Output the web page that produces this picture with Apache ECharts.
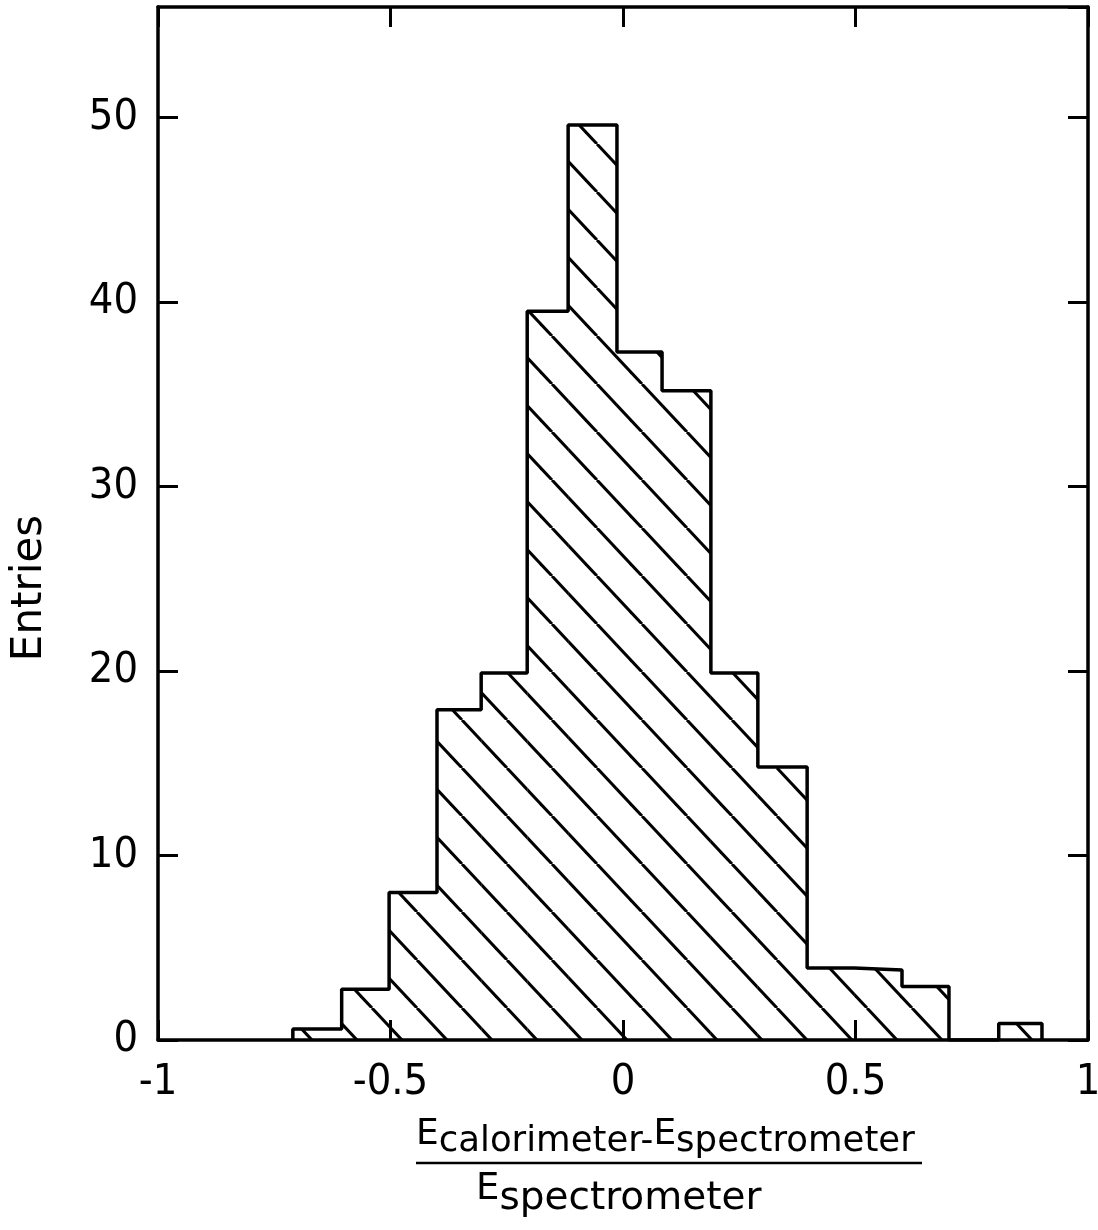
<!DOCTYPE html>
<html>
<head>
<meta charset="utf-8">
<script src="https://cdn.jsdelivr.net/npm/echarts@6/dist/echarts.min.js"></script>
<style>
html, body { margin: 0; padding: 0; background: #fff; }
#main { width: 1098px; height: 1230px; }
</style>
</head>
<body>
<div id="main"></div>
<script>
// bin edges (hand drawn, so not exactly 0.1 wide)
const binEdges = [-0.71, -0.605, -0.503, -0.40, -0.305, -0.206, -0.118, -0.013, 0.084, 0.189, 0.290, 0.396, 0.497, 0.600, 0.701, 0.808, 0.901];
const entries = [0.6, 2.75, 8.0, 17.9, 19.9, 39.5, 49.6, 37.3, 35.2, 19.9, 14.8, 3.9, 3.8, 2.9, 0, 0.9];
const xTicks = [-1, -0.5, 0, 0.5, 1];
const yTicks = [0, 10, 20, 30, 40, 50];
const yMax = 56;

const tickFont = "'Liberation Sans Narrow', 'DejaVu Sans Condensed', 'DejaVu Sans', sans-serif";
const textFont = "'DejaVu Sans', sans-serif";

// one bar per bin: [left, right, height]
const bars = entries.map((h, i) => [binEdges[i], binEdges[i + 1], h]);

// step outline of the histogram
const outline = [[binEdges[0], 0]];
entries.forEach((h, i) => {
  outline.push([binEdges[i], h]);
  outline.push([binEdges[i + 1], h]);
});
outline.push([binEdges[binEdges.length - 1], 0]);

// diagonal hatching tile, lines going down to the right
function makeHatch() {
  const w = 45, h = 48, ph = 12;
  const c = document.createElement('canvas');
  c.width = w;
  c.height = h;
  const ctx = c.getContext('2d');
  ctx.strokeStyle = '#000';
  ctx.lineWidth = 3;
  for (let k = -1; k <= 1; k++) {
    ctx.beginPath();
    ctx.moveTo(ph + k * w, 0);
    ctx.lineTo(ph + (k + 1) * w, h);
    ctx.stroke();
  }
  return c;
}
const hatch = { image: makeHatch(), repeat: 'repeat' };

const axisLine = { show: true, onZero: false, lineStyle: { color: '#000', width: 3.5 } };
const axisTick = { show: true, inside: true, length: 20, lineStyle: { color: '#000', width: 3 } };

let chart = echarts.init(document.getElementById('main'));
chart.setOption({
  animation: false,
  backgroundColor: '#fff',
  grid: { left: 158, right: 10, top: 7, bottom: 190, outerBoundsMode: 'none' },
  xAxis: [
    {
      type: 'value',
      min: xTicks[0],
      max: xTicks[xTicks.length - 1],
      interval: xTicks[1] - xTicks[0],
      axisLine: axisLine,
      axisTick: axisTick,
      splitLine: { show: false },
      axisLabel: { color: '#000', fontSize: 43, fontFamily: tickFont, margin: 21 }
    },
    {
      type: 'value',
      position: 'top',
      min: xTicks[0],
      max: xTicks[xTicks.length - 1],
      interval: xTicks[1] - xTicks[0],
      axisLine: axisLine,
      axisTick: axisTick,
      splitLine: { show: false },
      axisLabel: { show: false }
    }
  ],
  yAxis: [
    {
      type: 'value',
      min: yTicks[0],
      max: yMax,
      interval: yTicks[1] - yTicks[0],
      axisLine: axisLine,
      axisTick: axisTick,
      splitLine: { show: false },
      axisLabel: {
        color: '#000', fontSize: 43, fontFamily: tickFont, margin: 20,
        showMaxLabel: false,
        formatter: v => (yTicks.indexOf(v) >= 0 ? String(v) : '')
      }
    },
    {
      type: 'value',
      position: 'right',
      min: yTicks[0],
      max: yMax,
      interval: yTicks[1] - yTicks[0],
      axisLine: axisLine,
      axisTick: axisTick,
      splitLine: { show: false },
      axisLabel: { show: false }
    }
  ],
  series: [
    {
      type: 'custom',
      data: bars,
      encode: { x: [0, 1], y: 2 },
      renderItem: (params, api) => {
        const p0 = api.coord([api.value(0), api.value(2)]);
        const p1 = api.coord([api.value(1), 0]);
        return {
          type: 'rect',
          shape: { x: p0[0], y: p0[1], width: p1[0] - p0[0], height: p1[1] - p0[1] },
          style: { fill: hatch, stroke: null }
        };
      },
      z: 2
    },
    {
      type: 'line',
      data: outline,
      symbol: 'none',
      lineStyle: { color: '#000', width: 3.5 },
      z: 3
    }
  ],
  graphic: [
    {
      type: 'text',
      x: 30,
      y: 588,
      rotation: Math.PI / 2,
      style: {
        text: 'Entries',
        font: "42px " + textFont,
        fill: '#000',
        align: 'center',
        verticalAlign: 'middle'
      }
    },
    {
      type: 'text',
      x: 416,
      y: 1117,
      style: {
        text: '{E|E}{s|calorimeter-}{E|E}{s|spectrometer}',
        fill: '#000',
        align: 'left',
        verticalAlign: 'top',
        rich: {
          E: { fontSize: 36, fontFamily: textFont, lineHeight: 38, verticalAlign: 'top' },
          s: { fontSize: 35.5, fontFamily: textFont, lineHeight: 38, padding: [7, 0, 0, 0], verticalAlign: 'top' }
        }
      }
    },
    {
      type: 'line',
      shape: { x1: 416, y1: 1163, x2: 922, y2: 1163 },
      style: { stroke: '#000', lineWidth: 2.5 }
    },
    {
      type: 'text',
      x: 476,
      y: 1171,
      style: {
        text: '{E|E}{s|spectrometer}',
        fill: '#000',
        align: 'left',
        verticalAlign: 'top',
        rich: {
          E: { fontSize: 37, fontFamily: textFont, lineHeight: 38, verticalAlign: 'top' },
          s: { fontSize: 39, fontFamily: textFont, lineHeight: 38, padding: [8, 0, 0, 0], verticalAlign: 'top' }
        }
      }
    }
  ]
});
</script>
</body>
</html>
